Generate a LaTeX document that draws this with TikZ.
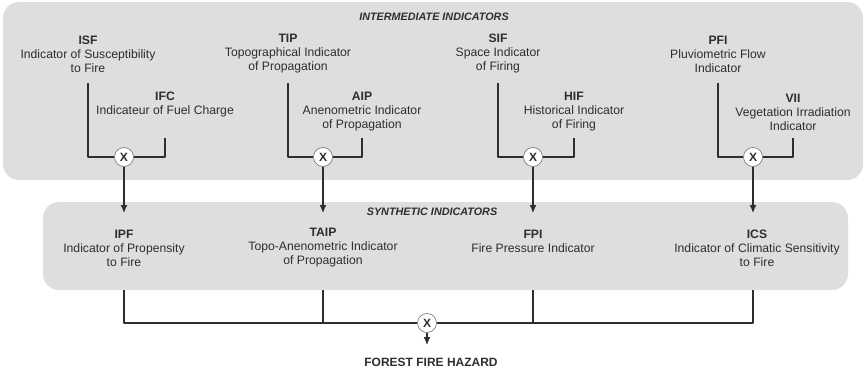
\documentclass[tikz,border=0pt]{standalone}
\usepackage{fontspec}
\setmainfont{Liberation Sans}
\usetikzlibrary{arrows.meta}
\definecolor{panelgray}{HTML}{DEDEDE}
\definecolor{ink}{HTML}{2E2E2E}
\tikzset{
	ind/.style={align=center, text=ink, font=\fontsize{12.2}{14}\selectfont, inner sep=1pt},
	head/.style={text=ink, font=\bfseries\itshape\fontsize{10.8}{12}\selectfont},
	mult/.style={circle, draw=ink!70, fill=white, line width=0.6pt, inner sep=0pt, minimum size=19pt, text=ink, font=\bfseries\fontsize{12}{12}\selectfont},
	wire/.style={draw=ink, line width=1.1pt},
	feed/.style={wire, -{Latex[length=8pt,width=7pt]}},
}
\begin{document}
\begin{tikzpicture}[x=1pt, y=-1pt, line join=round]
	\useasboundingbox (0,0) rectangle (864,370);
	% panels
	\fill[panelgray, rounded corners=16pt] (3,2) rectangle (863,180);
	\fill[panelgray, rounded corners=16pt] (43,202) rectangle (848,290);
	\node[head] (inter) at (434,17) {INTERMEDIATE INDICATORS};
	\node[head] (synth) at (432,212) {SYNTHETIC INDICATORS};
	% rows used by the connectors
	\coordinate (hi) at (0,83);
	\coordinate (lo) at (0,138);
	\coordinate (tips) at (0,213);
	\coordinate (pb) at (0,290);
	\coordinate (haz) at (0,345);
	% intermediate indicators
	\node[ind] (isf) at (88,54) {\textbf{ISF}\\Indicator of Susceptibility\\to Fire};
	\node[ind] (ifc) at (165,105) {\textbf{IFC}\\Indicateur of Fuel Charge};
	\node[ind] (tip) at (288,54) {\textbf{TIP}\\Topographical Indicator\\of Propagation};
	\node[ind] (aip) at (362,112) {\textbf{AIP}\\Anenometric Indicator\\of Propagation};
	\node[ind] (sif) at (498,54) {\textbf{SIF}\\Space Indicator\\of Firing};
	\node[ind] (hif) at (574,112) {\textbf{HIF}\\Historical Indicator\\of Firing};
	\node[ind] (pfi) at (718,54) {\textbf{PFI}\\Pluviometric Flow\\Indicator};
	\node[ind] (vii) at (793,112) {\textbf{VII}\\Vegetation Irradiation\\Indicator};
	% products
	\node[mult] (x1) at (124,157) {X};
	\node[mult] (x2) at (323,157) {X};
	\node[mult] (x3) at (533,157) {X};
	\node[mult] (x4) at (753,157) {X};
	\foreach \a/\b/\m in {isf/ifc/x1, tip/aip/x2, sif/hif/x3, pfi/vii/x4}{
		\draw[wire] (\a.south |- hi) |- (\m.west);
		\draw[wire] (\b.south |- lo) |- (\m.east);
		\draw[feed] (\m) -- (\m |- tips);
	}
	% synthetic indicators
	\node[ind] (ipf) at (124,248) {\textbf{IPF}\\Indicator of Propensity\\to Fire};
	\node[ind] (taip) at (323,248) {\textbf{TAIP}\\Topo-Anenometric Indicator\\of Propagation};
	\node[ind] (fpi) at (533,241) {\textbf{FPI}\\Fire Pressure Indicator};
	\node[ind] (ics) at (757,248) {\textbf{ICS}\\Indicator of Climatic Sensitivity\\to Fire};
	% hazard
	\node[mult] (x5) at (427,323) {X};
	\coordinate (bus) at (x5);
	\draw[wire] (x1 |- pb) |- (x5.west);
	\draw[wire] (x2 |- pb) -- (x2 |- bus);
	\draw[wire] (x3 |- pb) -- (x3 |- bus);
	\draw[wire] (x4 |- pb) |- (x5.east);
	\draw[feed] (x5) -- (x5 |- haz);
	\node[text=ink, font=\bfseries\fontsize{12}{14}\selectfont] (hazard) at (431,362) {FOREST FIRE HAZARD};
\end{tikzpicture}
\end{document}
